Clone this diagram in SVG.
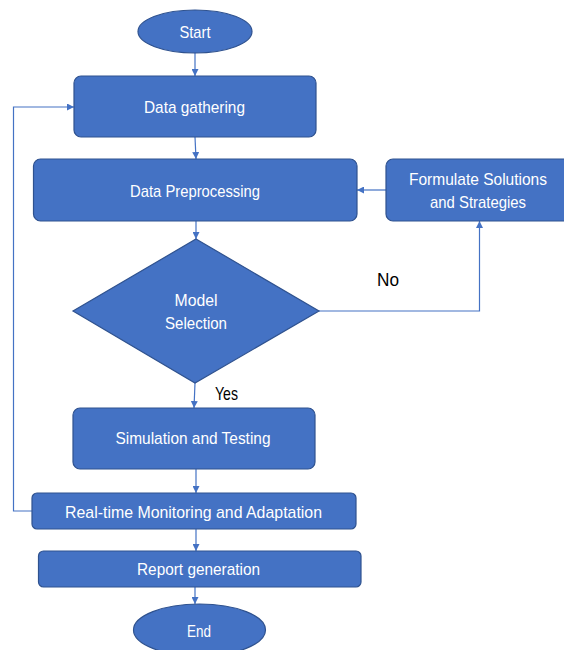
<svg xmlns="http://www.w3.org/2000/svg" width="564" height="650" viewBox="0 0 564 650">
<style>
.n{fill:#4472C4;stroke:#2F528F;stroke-width:1.2}
.t{font-family:"Liberation Sans",Arial,sans-serif;font-size:17px;fill:#ffffff;text-anchor:middle}
.l{font-family:"Liberation Sans",Arial,sans-serif;font-size:18.5px;fill:#000000;text-anchor:middle}
.c{fill:none;stroke:#4472C4;stroke-width:1.2}
</style>
<defs>
<marker id="a" viewBox="0 0 10 10" refX="10" refY="5" markerWidth="7" markerHeight="7" orient="auto" markerUnits="userSpaceOnUse">
<path d="M0,0 L10,5 L0,10 z" fill="#4472C4"/>
</marker>
</defs>
<g id="connectors">
<line class="c" x1="195" y1="53" x2="195" y2="76" marker-end="url(#a)"/>
<line class="c" x1="195" y1="137" x2="196" y2="159" marker-end="url(#a)"/>
<line class="c" x1="196" y1="221" x2="196" y2="239" marker-end="url(#a)"/>
<line class="c" x1="195" y1="383" x2="194" y2="408" marker-end="url(#a)"/>
<line class="c" x1="196" y1="469" x2="196" y2="493" marker-end="url(#a)"/>
<line class="c" x1="196" y1="529" x2="196" y2="551" marker-end="url(#a)"/>
<line class="c" x1="195" y1="587" x2="195" y2="604" marker-end="url(#a)"/>
<line class="c" x1="386" y1="190" x2="357" y2="190" marker-end="url(#a)"/>
<polyline class="c" points="319,311 479.5,311 479.5,221" marker-end="url(#a)"/>
<polyline class="c" points="32,511 13.5,511 13.5,107 74,107" marker-end="url(#a)"/>
</g>
<g id="start">
<ellipse class="n" cx="195" cy="31.5" rx="57" ry="21.5"/>
<text class="t" x="195" y="37.5" textLength="31" lengthAdjust="spacingAndGlyphs">Start</text>
</g>
<g id="data-gathering">
<rect class="n" x="74" y="76" width="242" height="61" rx="7"/>
<text class="t" x="194.5" y="112.5" textLength="101" lengthAdjust="spacingAndGlyphs">Data gathering</text>
</g>
<g id="data-preprocessing">
<rect class="n" x="33.5" y="159" width="323.5" height="62" rx="7"/>
<text class="t" x="195" y="196.5" textLength="130" lengthAdjust="spacingAndGlyphs">Data Preprocessing</text>
</g>
<g id="formulate">
<rect class="n" x="386" y="159" width="186" height="62" rx="7"/>
<text class="t" x="478" y="185" textLength="138" lengthAdjust="spacingAndGlyphs">Formulate Solutions</text>
<text class="t" x="478" y="208" textLength="96" lengthAdjust="spacingAndGlyphs">and Strategies</text>
</g>
<g id="model-selection">
<polygon class="n" points="196,239 319,311 195,383 73,311"/>
<text class="t" x="196" y="306" textLength="43" lengthAdjust="spacingAndGlyphs">Model</text>
<text class="t" x="196" y="329" textLength="62" lengthAdjust="spacingAndGlyphs">Selection</text>
</g>
<g id="labels">
<text class="l" x="388" y="285.5" textLength="22" lengthAdjust="spacingAndGlyphs">No</text>
<text class="l" x="226.5" y="399.5" textLength="23" lengthAdjust="spacingAndGlyphs">Yes</text>
</g>
<g id="simulation">
<rect class="n" x="73" y="408" width="242" height="61" rx="7"/>
<text class="t" x="193" y="444" textLength="155" lengthAdjust="spacingAndGlyphs">Simulation and Testing</text>
</g>
<g id="monitoring">
<rect class="n" x="32" y="493" width="324" height="36" rx="5"/>
<text class="t" x="193.5" y="518" textLength="257" lengthAdjust="spacingAndGlyphs">Real-time Monitoring and Adaptation</text>
</g>
<g id="report">
<rect class="n" x="38.5" y="551" width="322.5" height="36" rx="5"/>
<text class="t" x="198.5" y="575" textLength="123" lengthAdjust="spacingAndGlyphs">Report generation</text>
</g>
<g id="end">
<ellipse class="n" cx="199.5" cy="630" rx="66" ry="26"/>
<text class="t" x="199" y="637" textLength="24" lengthAdjust="spacingAndGlyphs">End</text>
</g>
</svg>
